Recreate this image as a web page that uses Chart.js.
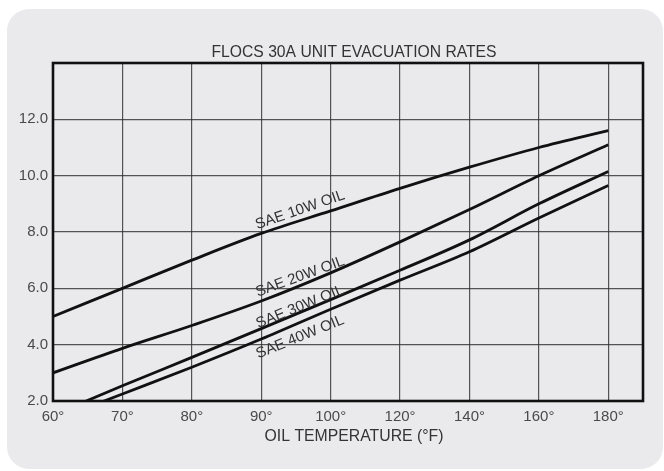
<!DOCTYPE html>
<html>
<head>
<meta charset="utf-8">
<script src="https://cdn.jsdelivr.net/npm/chart.js@4.4.1/dist/chart.umd.min.js"></script>
<style>
    html, body { margin: 0; padding: 0; background: #fff; }
    #card { position: absolute; left: 7px; top: 9px; width: 656px; height: 460px; border-radius: 22px; background: #eaeaec; }
    #wrap { position: absolute; left: 0; top: 0; width: 664px; height: 471px; }
</style>
</head>
<body>
<div id="card"></div>
<div id="wrap"><canvas id="evacChart"></canvas></div>
<script>
// oil temperature (F) and evacuation rate per grade
const temps = [60, 70, 80, 90, 100, 120, 140, 160, 180];
const sae10w = [5.0, 6.0, 7.0, 7.95, 8.75, 9.55, 10.3, 11.0, 11.6];
const sae20w = [3.0, 3.87, 4.68, 5.55, 6.55, 7.65, 8.8, 10.0, 11.1];
const sae30w = [1.5, 2.54, 3.55, 4.57, 5.6, 6.64, 7.72, 9.0, 10.15];
const sae40w = [1.3, 2.25, 3.2, 4.2, 5.26, 6.29, 7.3, 8.5, 9.65];
const yTicks = [2, 4, 6, 8, 10, 12];
const seriesNames = ["SAE 10W OIL", "SAE 20W OIL", "SAE 30W OIL", "SAE 40W OIL"];

document.addEventListener("DOMContentLoaded", function () {
    const ctx = document.getElementById("evacChart").getContext("2d");
    const gridColor = "rgba(45, 45, 45, 0.8)";
    const tickFont = { family: "Liberation Sans", size: 15 };

    // label placement along each curve: [x index, y value, angle]
    const lineLabels = [
        [3.56, 8.78, -19],
        [3.56, 6.41, -20],
        [3.56, 5.34, -22],
        [3.56, 4.27, -22]
    ];

    const textPlugin = {
        id: "flocsText",
        afterDraw(chart) {
            const c = chart.ctx;
            const area = chart.chartArea;
            const xs = chart.scales.x;
            const ys = chart.scales.y;

            // heavy frame round the plot
            c.save();
            c.strokeStyle = "#111";
            c.lineWidth = 2.6;
            c.strokeRect(area.left, area.top, area.right - area.left, area.bottom - area.top);
            c.restore();

            c.save();
            c.fillStyle = "#333";
            c.textAlign = "center";
            c.textBaseline = "middle";
            const cx = (area.left + area.right) / 2 + 6;
            c.font = '15.7px "Liberation Sans"';
            c.fillText("FLOCS 30A UNIT EVACUATION RATES", cx, area.top - 10);
            c.font = '15.8px "Liberation Sans"';
            c.fillText("OIL TEMPERATURE (\u00b0F)", cx, area.bottom + 36);

            c.font = '15px "Liberation Sans"';
            seriesNames.forEach(function (name, i) {
                const spot = lineLabels[i];
                c.save();
                c.translate(xs.getPixelForValue(spot[0]), ys.getPixelForValue(spot[1]));
                c.rotate(spot[2] * Math.PI / 180);
                c.fillText(name, 0, 0);
                c.restore();
            });
            c.restore();
        }
    };

    function toPoints(values) {
        return values.map(function (v, i) { return { x: i, y: v }; });
    }

    const lineStyle = {
        borderColor: "#111",
        borderWidth: 2.8,
        pointRadius: 0,
        fill: false,
        cubicInterpolationMode: "monotone"
    };

    new Chart(ctx, {
        type: "line",
        data: {
            datasets: [
                Object.assign({ label: seriesNames[0], data: toPoints(sae10w) }, lineStyle),
                Object.assign({ label: seriesNames[1], data: toPoints(sae20w) }, lineStyle),
                Object.assign({ label: seriesNames[2], data: toPoints(sae30w) }, lineStyle),
                Object.assign({ label: seriesNames[3], data: toPoints(sae40w) }, lineStyle)
            ]
        },
        options: {
            responsive: true,
            maintainAspectRatio: false,
            animation: false,
            layout: { padding: { top: 63, right: 21, left: 0, bottom: 0 } },
            plugins: {
                legend: { display: false },
                tooltip: { enabled: false }
            },
            scales: {
                x: {
                    type: "linear",
                    min: 0,
                    max: 8.5,
                    afterBuildTicks: function (axis) {
                        axis.ticks = temps.map(function (t, i) { return { value: i }; });
                    },
                    afterFit: function (axis) { axis.height = 70; },
                    ticks: {
                        color: "#4a4a4a",
                        font: tickFont,
                        padding: 7,
                        maxRotation: 0,
                        callback: function (v) { return temps[v] + "\u00b0"; }
                    },
                    grid: { color: gridColor, lineWidth: 1.2, drawTicks: false },
                    border: { display: false }
                },
                y: {
                    min: 2,
                    max: 14,
                    afterBuildTicks: function (axis) {
                        axis.ticks = yTicks.map(function (v) { return { value: v }; });
                    },
                    afterFit: function (axis) { axis.width = 53; },
                    ticks: {
                        color: "#4a4a4a",
                        font: tickFont,
                        padding: 5,
                        callback: function (v) { return v.toFixed(1); }
                    },
                    grid: { color: gridColor, lineWidth: 1.2, drawTicks: false },
                    border: { display: false }
                }
            }
        },
        plugins: [textPlugin]
    });
});
</script>
</body>
</html>
